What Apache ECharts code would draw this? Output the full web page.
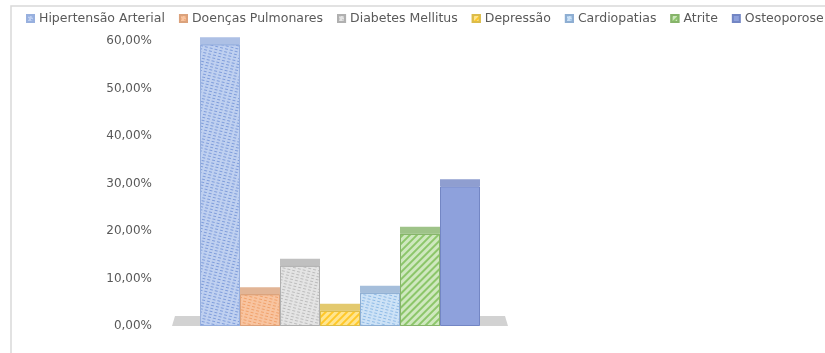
<!DOCTYPE html>
<html>
<head>
  <meta charset="utf-8">
  <title>doencas</title>
  <script src="https://cdn.jsdelivr.net/npm/echarts@6/dist/echarts.min.js"></script>
  <style>
    html, body { margin: 0; padding: 0; background: #fff; }
    #main { width: 825px; height: 353px; }
  </style>
</head>
<body>
  <div id="main"></div>
  <script type="text/javascript">
    // dados (em %)
    var categorias = ['Hipertensão Arterial', 'Doenças Pulmonares', 'Diabetes Mellitus', 'Depressão', 'Cardiopatias', 'Atrite', 'Osteoporose'];
    var valores = [59.3, 6.7, 12.7, 3.2, 7.0, 19.4, 29.4];
    var eixoY = [0, 10, 20, 30, 40, 50, 60];

    // cores: fundo, hachura, topo
    var cores = ['#bfd0f0', '#f8c4a0', '#e4e4e4', '#ffe58f', '#cde2f6', '#cfe8bf', '#8ea1dc'];
    var hachuras = ['#7f9ddb', '#f0a26c', '#bcbcbc', '#ffc828', '#8fbbe6', '#8cc66a', null];
    var topos = ['#98b0de', '#dba27c', '#b0b0b0', '#dcbc4a', '#8eaed2', '#86b46a', '#7386c4'];
    var riscado = [false, false, false, true, false, true, false];

    var larg = 40;

    var series = [];
    for (var i = 0; i < categorias.length; i++) {
      var estilo = {
        color: cores[i],
        borderColor: topos[i],
        borderWidth: 1
      };
      if (hachuras[i]) {
        if (riscado[i]) {
          estilo.decal = {
            symbol: 'rect', symbolSize: 1, color: hachuras[i],
            dashArrayX: [1, 0], dashArrayY: [2, 3], rotation: -Math.PI / 4
          };
        } else {
          estilo.decal = {
            symbol: 'rect', symbolSize: 1, color: hachuras[i],
            dashArrayX: [3, 2], dashArrayY: [1, 2], rotation: 0.25
          };
        }
      }
      series.push({
        name: categorias[i],
        type: 'bar',
        barWidth: larg,
        barGap: '0%',
        z: 3,
        itemStyle: estilo,
        data: [valores[i]]
      });
    }

    // piso cinza (pseudo 3D)
    series.push({
      type: 'custom',
      z: 1,
      silent: true,
      data: [[0, 0]],
      renderItem: function (params, api) {
        var p = api.coord([0, 0]);
        var w = api.size([1, 0])[0];
        var x0 = p[0] - w / 2, x1 = p[0] + w / 2;
        return {
          type: 'polygon',
          shape: { points: [[x0, p[1]], [x1, p[1]], [x1 - 3, p[1] - 10], [x0 + 3, p[1] - 10]] },
          style: { fill: '#d2d2d2' }
        };
      }
    });

    // topo das colunas
    var topoDados = [];
    for (var j = 0; j < valores.length; j++) topoDados.push([0, valores[j], j]);
    series.push({
      type: 'custom',
      z: 4,
      silent: true,
      data: topoDados,
      renderItem: function (params, api) {
        var k = api.value(2);
        var p = api.coord([0, api.value(1)]);
        var x = p[0] + (k - 3.5) * larg;
        return {
          type: 'rect',
          shape: { x: x, y: p[1] - 7, width: larg, height: 7 },
          style: { fill: topos[k], opacity: 0.8 }
        };
      }
    });

    var myChart = echarts.init(document.getElementById('main'));

    var option = {
      animation: false,
      textStyle: { fontFamily: 'DejaVu Sans' },
      graphic: [{
        type: 'rect',
        shape: { x: 11, y: 6, width: 830, height: 360 },
        style: { fill: 'none', stroke: '#d9d9d9', lineWidth: 1.5 },
        silent: true
      }],
      legend: {
        data: categorias,
        left: 26,
        top: 12,
        width: 799,
        padding: 0,
        itemWidth: 7,
        itemHeight: 7,
        itemGap: 14,
        icon: 'rect',
        textStyle: { fontSize: 12.5, color: '#595959', fontFamily: 'DejaVu Sans' }
      },
      grid: {
        left: 172,
        right: 317,
        top: 41,
        bottom: 27,
        containLabel: false
      },
      xAxis: {
        type: 'category',
        data: [''],
        axisLine: { show: false },
        axisTick: { show: false },
        axisLabel: { show: false }
      },
      yAxis: {
        type: 'value',
        min: eixoY[0],
        max: eixoY[eixoY.length - 1],
        interval: 10,
        axisLine: { show: false },
        axisTick: { show: false },
        splitLine: { show: false },
        axisLabel: {
          margin: 20,
          fontSize: 12,
          color: '#595959',
          fontFamily: 'DejaVu Sans',
          formatter: function (v) {
            return v.toFixed(2).replace('.', ',') + '%';
          }
        }
      },
      series: series
    };

    myChart.setOption(option);
  </script>
</body>
</html>
